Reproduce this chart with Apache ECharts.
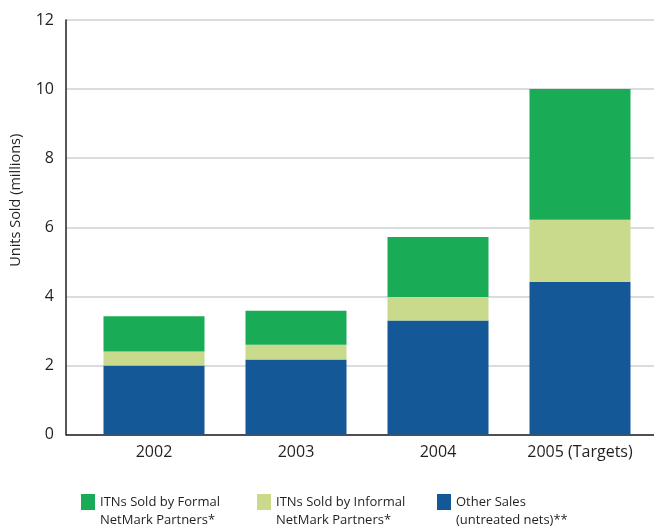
<!DOCTYPE html>
<html>
<head>
<meta charset="utf-8">
<script src="https://cdn.jsdelivr.net/npm/echarts@6/dist/echarts.min.js"></script>
<style>
  html, body { margin: 0; padding: 0; background: #fff; }
  #chart { width: 654px; height: 527px; }
</style>
</head>
<body>
<div id="chart"></div>
<script>
// Net sales by year, in millions of units
const years = ['2002', '2003', '2004', '2005 (Targets)'];
const otherSales = [2.0, 2.17, 3.3, 4.42];
const informalPartners = [0.4, 0.43, 0.68, 1.8];
const formalPartners = [1.02, 0.98, 1.74, 3.78];
const yTicks = { min: 0, max: 12, step: 2 };

const names = {
  formal: 'ITNs Sold by Formal NetMark Partners*',
  informal: 'ITNs Sold by Informal NetMark Partners*',
  other: 'Other Sales (untreated nets)**'
};
// A leading empty line keeps the first text line level with the swatch
const legendLines = {
  [names.formal]: '\nITNs Sold by Formal\nNetMark Partners*',
  [names.informal]: '\nITNs Sold by Informal\nNetMark Partners*',
  [names.other]: '\nOther Sales\n(untreated nets)**'
};

const FONT = 'Open Sans';
const TEXT = '#231f20';
const colors = { formal: '#1aab56', informal: '#c9da8d', other: '#145898' };

const chart = echarts.init(document.getElementById('chart'));

// One legend per series so each entry can sit at its own column
function legendAt(left, name) {
  return {
    left: left, top: 475, padding: 0,
    data: [name],
    itemWidth: 14, itemHeight: 16, itemGap: 0,
    selectedMode: false,
    icon: 'rect',
    formatter: n => legendLines[n],
    textStyle: { fontFamily: FONT, fontSize: 13, color: TEXT, lineHeight: 18 }
  };
}

chart.setOption({
  animation: false,
  grid: [
    { left: 61, right: 0, top: 20, bottom: 92.5 },
    { left: 83, right: 3, top: 20, bottom: 92.5 }
  ],
  xAxis: [
    {
      gridIndex: 0, type: 'value', min: 0, max: 1,
      axisLine: { show: true, lineStyle: { color: TEXT, width: 1.5 } },
      axisTick: { show: false }, axisLabel: { show: false }, splitLine: { show: false }
    },
    {
      gridIndex: 1, type: 'category', data: years,
      axisLine: { show: false }, axisTick: { show: false },
      axisLabel: { fontFamily: FONT, fontSize: 16, color: TEXT, margin: 10 }
    }
  ],
  yAxis: [
    {
      gridIndex: 0, type: 'value', min: yTicks.min, max: yTicks.max, interval: yTicks.step,
      name: 'Units Sold (millions)', nameLocation: 'middle', nameGap: 43,
      nameTextStyle: { fontFamily: FONT, fontSize: 14.5, color: TEXT, padding: [0, 0, 0, 54] },
      axisLine: { show: true, lineStyle: { color: TEXT, width: 1.5 } },
      axisTick: { show: false },
      axisLabel: { fontFamily: FONT, fontSize: 16, color: TEXT, margin: 12 },
      splitLine: { show: true, lineStyle: { color: '#cdd1d6', width: 1.5 } }
    },
    {
      gridIndex: 1, type: 'value', min: yTicks.min, max: yTicks.max, interval: yTicks.step,
      show: false, splitLine: { show: false }
    }
  ],
  legend: [
    legendAt(81, names.formal),
    legendAt(257, names.informal),
    legendAt(437, names.other)
  ],
  series: [
    { name: names.other, type: 'bar', stack: 'sales', xAxisIndex: 1, yAxisIndex: 1,
      barWidth: 101, itemStyle: { color: colors.other }, data: otherSales },
    { name: names.informal, type: 'bar', stack: 'sales', xAxisIndex: 1, yAxisIndex: 1,
      barWidth: 101, itemStyle: { color: colors.informal }, data: informalPartners },
    { name: names.formal, type: 'bar', stack: 'sales', xAxisIndex: 1, yAxisIndex: 1,
      barWidth: 101, itemStyle: { color: colors.formal }, data: formalPartners }
  ]
});
</script>
</body>
</html>
